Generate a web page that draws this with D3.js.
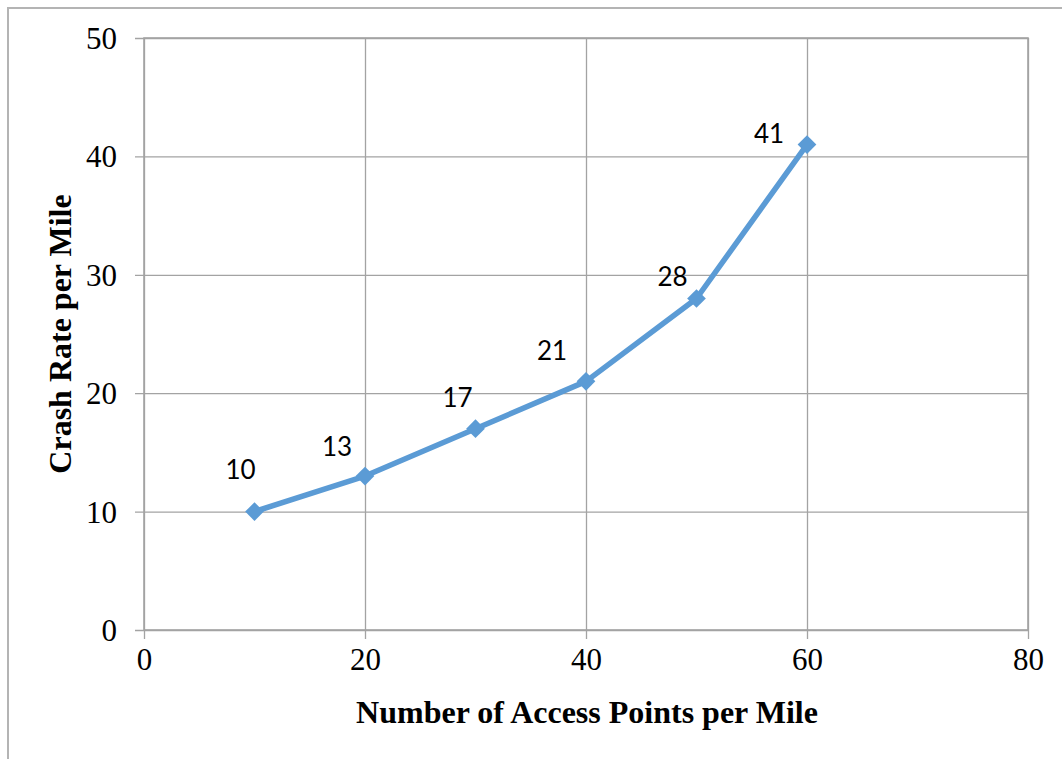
<!DOCTYPE html>
<html>
<head>
<meta charset="utf-8">
<script src="https://cdn.jsdelivr.net/npm/d3@7"></script>
<style>
  html, body { margin: 0; padding: 0; background: #fff; }
  svg { display: block; }
</style>
</head>
<body>
<script>
// Access points per mile vs. crash rate per mile
const accessPoints = [10, 20, 30, 40, 50, 60];
const crashRates = [10, 13, 17, 21, 28, 41];
const xTicks = [0, 20, 40, 60, 80];
const yTicks = [0, 10, 20, 30, 40, 50];
const xTitle = "Number of Access Points per Mile";
const yTitle = "Crash Rate per Mile";

// pixel nudges for each value label, relative to its marker (dx, dy of baseline centre)
const labelNudge = [[-14, -33], [-28, -20], [-18, -22], [-34, -21], [-24, -12], [-38, -2]];

const W = 1062, H = 759;
const plot = { left: 144, top: 38, right: 1028, bottom: 630 };

const svg = d3.select("body").append("svg")
  .attr("width", W).attr("height", H);

// outer chart frame (left and top edges visible)
svg.append("path")
  .attr("d", `M8,${H} L8,8 L${W},8`)
  .attr("fill", "none").attr("stroke", "#b4b4b4").attr("stroke-width", 2);

const x = d3.scaleLinear().domain([0, 80]).range([plot.left, plot.right]);
const y = d3.scaleLinear().domain([0, 50]).range([plot.bottom, plot.top]);

const gridColor = "#a3a3a3";
const serif = "'Liberation Serif', 'Times New Roman', serif";

// vertical gridlines + outward ticks
const xAxis = d3.axisBottom(x).tickValues(xTicks).tickFormat(d3.format("d"))
  .tickSize(-(plot.bottom - plot.top)).tickPadding(14);
const gx = svg.append("g").attr("transform", `translate(0,${plot.bottom})`).call(xAxis);
gx.select(".domain").remove();
gx.selectAll(".tick line").attr("stroke", gridColor).attr("stroke-width", 1.3)
  .attr("y1", 9);
gx.selectAll(".tick text").attr("font-family", serif).attr("font-size", 31)
  .attr("fill", "#000").attr("dy", "0.71em").attr("y", 18);

// horizontal gridlines + outward ticks
const yAxis = d3.axisLeft(y).tickValues(yTicks).tickFormat(d3.format("d"))
  .tickSize(-(plot.right - plot.left)).tickPadding(14);
const gy = svg.append("g").attr("transform", `translate(${plot.left},0)`).call(yAxis);
gy.select(".domain").remove();
gy.selectAll(".tick line").attr("stroke", gridColor).attr("stroke-width", 1.3)
  .attr("x1", -9);
gy.selectAll(".tick text").attr("font-family", serif).attr("font-size", 31)
  .attr("fill", "#000").attr("x", -27).attr("dy", "0.34em");

// plot area frame
svg.append("rect")
  .attr("x", plot.left).attr("y", plot.top)
  .attr("width", plot.right - plot.left).attr("height", plot.bottom - plot.top)
  .attr("fill", "none").attr("stroke", gridColor).attr("stroke-width", 1.6);

const pts = accessPoints.map((a, i) => ({ a, c: crashRates[i], i }));
const blue = "#5b9bd5";

// series line
svg.append("path")
  .datum(pts)
  .attr("d", d3.line().x(d => x(d.a)).y(d => y(d.c)))
  .attr("fill", "none").attr("stroke", blue).attr("stroke-width", 5.5)
  .attr("stroke-linejoin", "round");

// diamond markers
svg.selectAll("path.marker").data(pts).enter().append("path")
  .attr("class", "marker")
  .attr("d", d3.symbol().type(d3.symbolSquare).size(175))
  .attr("transform", d => `translate(${x(d.a)},${y(d.c)}) rotate(45)`)
  .attr("fill", blue);

// value labels
svg.selectAll("text.val").data(pts).enter().append("text")
  .attr("class", "val")
  .attr("x", d => x(d.a) + labelNudge[d.i][0])
  .attr("y", d => y(d.c) + labelNudge[d.i][1])
  .attr("text-anchor", "middle")
  .attr("font-family", "Lato, 'Open Sans', sans-serif")
  .attr("font-size", 26)
  .attr("fill", "#000")
  .text(d => d.c);

// axis titles
svg.append("text")
  .attr("x", (plot.left + plot.right) / 2 + 1).attr("y", 723)
  .attr("text-anchor", "middle")
  .attr("font-family", serif).attr("font-weight", "bold").attr("font-size", 32)
  .text(xTitle);

svg.append("text")
  .attr("transform", `translate(71,${(plot.top + plot.bottom) / 2}) rotate(-90)`)
  .attr("text-anchor", "middle")
  .attr("font-family", serif).attr("font-weight", "bold").attr("font-size", 32)
  .text(yTitle);
</script>
</body>
</html>
